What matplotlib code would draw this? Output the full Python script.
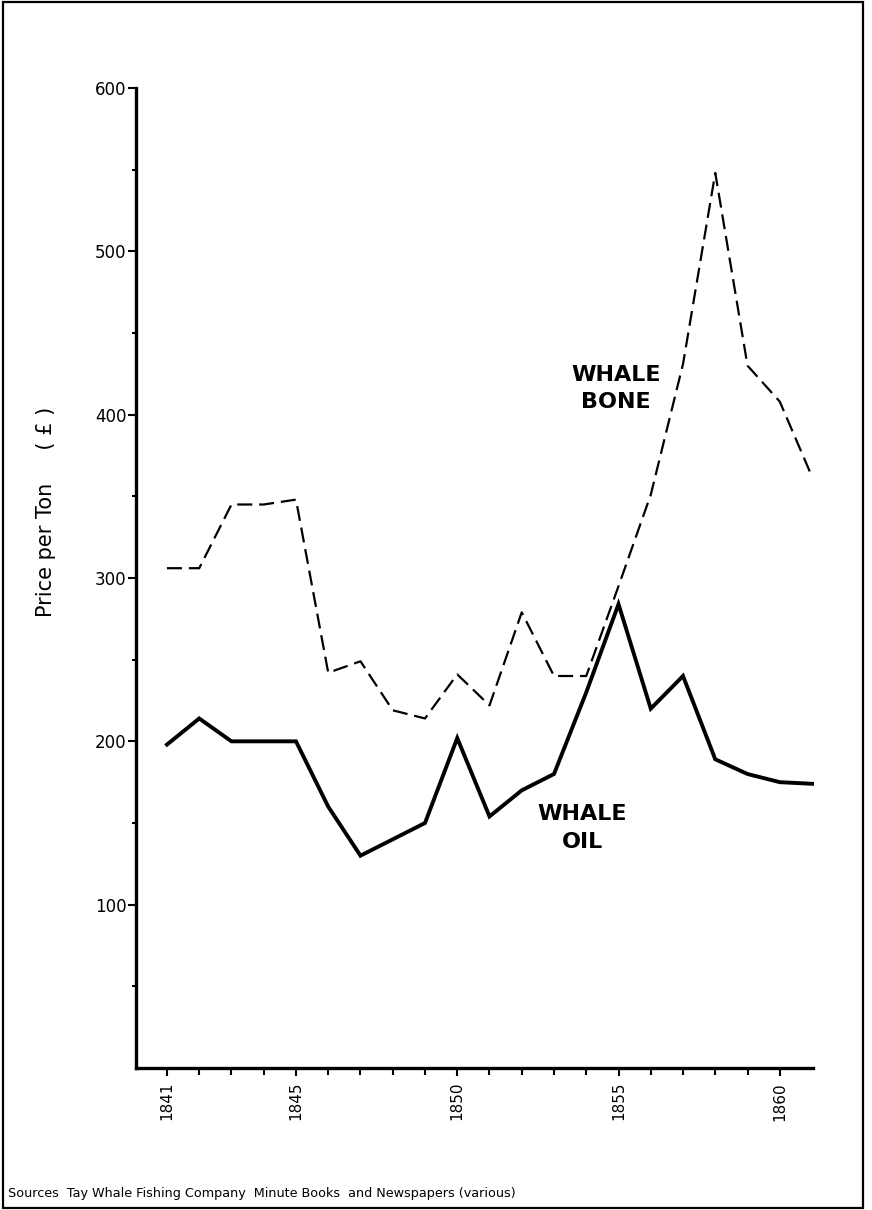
import matplotlib
matplotlib.use("Agg")
import matplotlib.pyplot as plt
from matplotlib.patches import Rectangle
from matplotlib.ticker import FixedLocator

years = list(range(1841, 1862))
whale_oil = [198, 214, 200, 200, 200, 160, 130, 140, 150, 202, 154, 170, 180,
             230, 284, 220, 240, 189, 180, 175, 174]
whale_bone = [306, 306, 345, 345, 348, 242, 249, 219, 214, 241, 222, 279, 240,
              240, 295, 351, 431, 548, 430, 408, 362]
x_tick_labels = [1841, 1845, 1850, 1855, 1860]
y_tick_labels = [100, 200, 300, 400, 500, 600]

plt.rcParams['font.family'] = ['DejaVu Sans']

fig = plt.figure(figsize=(8.72, 12.10), dpi=100)
ax = fig.add_axes([136/872, 1 - 1068/1210, (813 - 136)/872, (1068 - 88)/1210])

ax.plot(years, whale_oil, color='black', lw=2.8, solid_joinstyle='miter', clip_on=False)
ax.plot(years, whale_bone, color='black', lw=1.6, linestyle=(0, (6.75, 3.1)), clip_on=False)

ax.set_xlim(1840.04, 1861.03)
ax.set_ylim(0, 600)

for s in ['top', 'right']:
    ax.spines[s].set_visible(False)
for s in ['left', 'bottom']:
    ax.spines[s].set_linewidth(2.4)

ax.yaxis.set_major_locator(FixedLocator(y_tick_labels))
ax.yaxis.set_minor_locator(FixedLocator([50, 150, 250, 350, 450, 550]))
ax.set_yticklabels([str(v) for v in y_tick_labels])
ax.tick_params(axis='y', which='major', length=6, width=1.5, labelsize=12, pad=1)
ax.tick_params(axis='y', which='minor', length=3, width=1.5)

ax.xaxis.set_major_locator(FixedLocator(x_tick_labels))
ax.xaxis.set_minor_locator(FixedLocator(years[:-1]))
ax.set_xticklabels([str(v) for v in x_tick_labels], rotation=90)
ax.tick_params(axis='x', which='major', length=6, width=1.5, labelsize=11, pad=4)
ax.tick_params(axis='x', which='minor', length=5, width=1.5)

ax.set_ylabel('Price per Ton     ( £ )', fontsize=15)
ax.yaxis.label.set_va('center')
ax.yaxis.set_label_coords(-0.133, 0.567)

ax.text(1854.92, 416, 'WHALE\nBONE', fontsize=16, fontweight='bold', ha='center',
        va='center', linespacing=1.46)
ax.text(1853.87, 147, 'WHALE\nOIL', fontsize=16, fontweight='bold', ha='center',
        va='center', linespacing=1.46)

fig.text(8/872, 1 - 1193/1210, 'Sources  Tay Whale Fishing Company  Minute Books  and Newspapers (various)',
         fontsize=9.2, ha='left', va='center')

fig.patches.append(Rectangle((3/872, 2/1210), 860/872, 1206/1210, transform=fig.transFigure,
                             fill=False, edgecolor='black', lw=1.6))

fig.savefig('out.png', dpi=100, facecolor='white')
